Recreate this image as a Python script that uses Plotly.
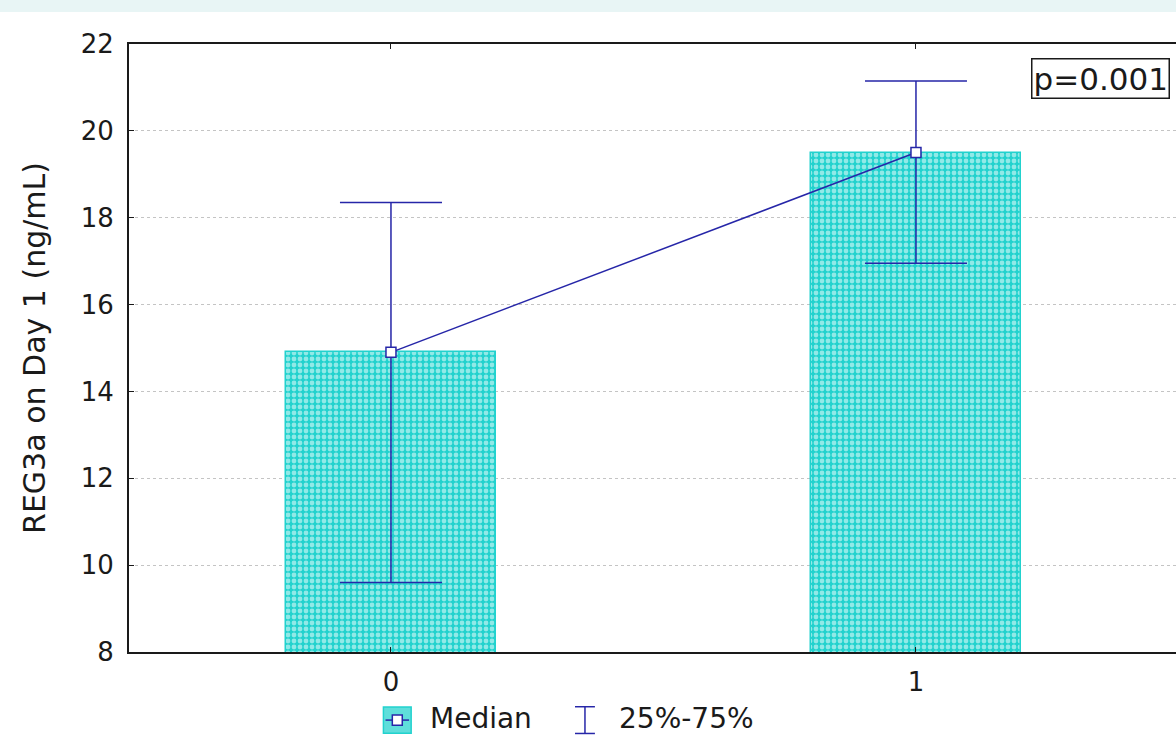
import plotly.graph_objects as go

# Group data: median REG3a with interquartile range
groups = [0, 1]
medians = [14.9, 19.5]
q25 = [9.6, 16.95]
q75 = [18.35, 21.15]
y_ticks = [8, 10, 12, 14, 16, 18, 20, 22]
p_text = "p=0.001"
y_title = "REG3a on Day 1 (ng/mL)"
legend_labels = ["Median", "25%-75%"]

CYAN = "#22d2ce"
NAVY = "#2626a8"
INK = "#1a1a1a"
FONT = "DejaVu Sans"

err_plus = [hi - m for hi, m in zip(q75, medians)]
err_minus = [m - lo for lo, m in zip(q25, medians)]

fig = go.Figure()

fig.add_trace(go.Bar(
    x=groups, y=medians, width=0.4,
    marker=dict(
        color=CYAN,
        line=dict(color=CYAN, width=1.5),
        pattern=dict(shape=".", fgcolor="white", bgcolor=CYAN,
                     size=6, solidity=0.5, fillmode="overlay"),
    ),
    showlegend=False, hoverinfo="skip",
))

fig.add_trace(go.Scatter(
    x=groups, y=medians, mode="lines+markers",
    line=dict(color=NAVY, width=1.5),
    marker=dict(symbol="square", size=10, color="white",
                line=dict(color=NAVY, width=1.5)),
    error_y=dict(type="data", symmetric=False, array=err_plus,
                 arrayminus=err_minus, color=NAVY, thickness=1.5, width=51),
    showlegend=False,
))

fig.update_layout(
    width=1176, height=736,
    margin=dict(l=129, r=0, t=44, b=84),
    paper_bgcolor="white", plot_bgcolor="white",
    font=dict(family=FONT, size=26, color=INK),
    bargap=0,
    xaxis=dict(
        range=[-0.499, 1.4953], tickvals=groups,
        ticktext=[str(g) for g in groups],
        showline=True, linecolor=INK, linewidth=2,
        mirror="ticks", ticks="inside", ticklen=5, tickcolor=INK,
        showgrid=False, zeroline=False,
        tickfont=dict(size=26), ticklabelstandoff=6,
    ),
    yaxis=dict(
        range=[8, 22], tickvals=y_ticks,
        showline=True, linecolor=INK, linewidth=2,
        ticks="inside", ticklen=5, tickcolor=INK,
        showgrid=True, gridcolor="#c4c4c4", gridwidth=1, griddash="dot",
        zeroline=False, tickfont=dict(size=26), ticklabelstandoff=8,
        title=dict(text=y_title, font=dict(size=30, color=INK), standoff=26),
    ),
    annotations=[
        dict(text=p_text, xref="paper", yref="paper", x=0.994, y=0.977,
             xanchor="right", yanchor="top", showarrow=False,
             font=dict(size=31, color=INK),
             bordercolor=INK, borderwidth=1.5, borderpad=1,
             bgcolor="white"),
        dict(text=legend_labels[0], xref="paper", yref="paper", x=0.286, y=-0.109,
             xanchor="left", yanchor="middle", showarrow=False,
             font=dict(size=28, color=INK)),
        dict(text=legend_labels[1], xref="paper", yref="paper", x=0.466, y=-0.109,
             xanchor="left", yanchor="middle", showarrow=False,
             font=dict(size=28, color=INK)),
    ],
)

# light band across the top of the page
fig.add_shape(type="rect", xref="paper", yref="paper",
              x0=-0.2, x1=1.1, y0=1.0526, y1=1.08,
              fillcolor="#e8f5f5", line=dict(width=0), layer="below")

# legend: bar swatch with median marker
lx, ly = 0.243, -0.112
fig.add_shape(type="rect", xref="paper", yref="paper",
              x0=lx, x1=lx + 0.0265, y0=ly - 0.0215, y1=ly + 0.0215,
              fillcolor="#5fdedb", line=dict(color=CYAN, width=1.5))
fig.add_shape(type="line", xref="paper", yref="paper",
              x0=lx + 0.002, x1=lx + 0.0245, y0=ly, y1=ly,
              line=dict(color=NAVY, width=1.5))
fig.add_shape(type="rect", xref="paper", yref="paper",
              x0=lx + 0.0085, x1=lx + 0.018, y0=ly - 0.0085, y1=ly + 0.0085,
              fillcolor="white", line=dict(color=NAVY, width=1.5))

# legend: interquartile range whisker glyph
ix = 0.4355
fig.add_shape(type="line", xref="paper", yref="paper",
              x0=ix, x1=ix, y0=ly - 0.022, y1=ly + 0.022,
              line=dict(color=NAVY, width=1.5))
for yy in (ly - 0.022, ly + 0.022):
    fig.add_shape(type="line", xref="paper", yref="paper",
                  x0=ix - 0.0095, x1=ix + 0.0095, y0=yy, y1=yy,
                  line=dict(color=NAVY, width=1.5))

fig.write_html("out.html")
